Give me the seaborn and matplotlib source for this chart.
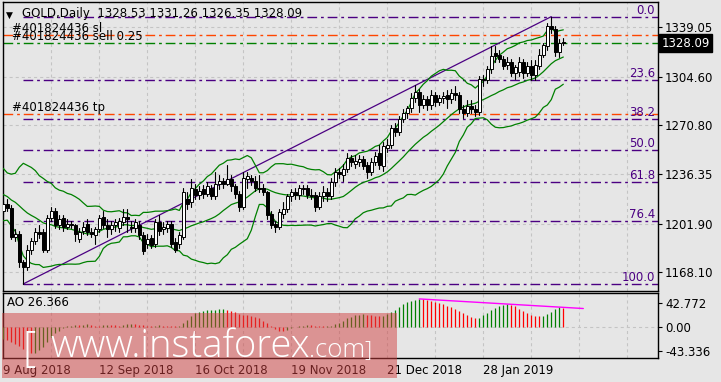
import numpy as np
import pandas as pd
import matplotlib
matplotlib.use("Agg")
import matplotlib.pyplot as plt
import seaborn as sns
from matplotlib.patches import Rectangle

sns.set_theme(style="white")
plt.rcParams['font.family'] = ['DejaVu Sans']
plt.rcParams['lines.scale_dashes'] = False

# ---------------- data ----------------
opens = [1211, 1216, 1213, 1193, 1195, 1175, 1172, 1184, 1190, 1196,
         1196, 1184, 1206, 1211, 1201, 1206, 1200, 1202, 1201, 1191,
         1197, 1202, 1196, 1194, 1198, 1207, 1201, 1198, 1201, 1199,
         1203, 1207, 1200, 1199, 1201, 1194, 1188, 1192, 1188, 1203,
         1198, 1199, 1202, 1189, 1188, 1193, 1219, 1217, 1226, 1222,
         1226, 1223, 1227, 1221, 1230, 1232, 1230, 1233, 1228, 1223,
         1214, 1233, 1234, 1232, 1227, 1227, 1224, 1209, 1202, 1200,
         1209, 1212, 1221, 1224, 1222, 1227, 1227, 1222, 1222, 1214,
         1221, 1224, 1221, 1231, 1238, 1236, 1240, 1248, 1244, 1245,
         1247, 1243, 1238, 1245, 1251, 1242, 1255, 1257, 1269, 1266,
         1275, 1279, 1283, 1290, 1294, 1285, 1289, 1285, 1292, 1287,
         1290, 1292, 1289, 1293, 1292, 1282, 1279, 1284, 1282, 1280,
         1303, 1302, 1310, 1321, 1320, 1317, 1313, 1315, 1307, 1308,
         1315, 1307, 1312, 1306, 1312, 1320, 1326, 1340, 1338, 1322,
         1328.53]
highs = [1218, 1219, 1215, 1198, 1197, 1177, 1187, 1192, 1199, 1201,
         1198, 1208, 1214, 1213, 1208, 1208, 1205, 1204, 1202, 1199,
         1203, 1205, 1199, 1200, 1208, 1211, 1205, 1204, 1205, 1206,
         1212, 1212, 1204, 1205, 1204, 1196, 1195, 1194, 1205, 1208,
         1203, 1204, 1204, 1192, 1196, 1227, 1224, 1233, 1230, 1228,
         1229, 1231, 1229, 1238, 1236, 1234, 1243, 1236, 1230, 1225,
         1238, 1238, 1236, 1235, 1236, 1230, 1225, 1211, 1204, 1212,
         1217, 1223, 1226, 1227, 1229, 1229, 1229, 1226, 1224, 1224,
         1228, 1227, 1234, 1241, 1241, 1244, 1251, 1250, 1250, 1250,
         1249, 1245, 1248, 1252, 1257, 1259, 1261, 1271, 1272, 1277,
         1282, 1284, 1293, 1299, 1296, 1292, 1291, 1295, 1294, 1292,
         1294, 1295, 1296, 1298, 1294, 1285, 1288, 1288, 1285, 1305,
         1306, 1312, 1326, 1326, 1323, 1319, 1318, 1317, 1313, 1318,
         1317, 1315, 1316, 1316, 1324, 1328, 1342, 1346.5, 1340, 1331,
         1331.26]
lows = [1209, 1211, 1191, 1190, 1172, 1160, 1170, 1181, 1188, 1192,
        1182, 1182, 1204, 1199, 1198, 1197, 1198, 1199, 1190, 1189,
        1195, 1194, 1193, 1188, 1196, 1199, 1193, 1195, 1197, 1196,
        1201, 1196, 1196, 1196, 1191, 1181, 1185, 1185, 1186, 1194,
        1195, 1196, 1186, 1182, 1185, 1191, 1212, 1214, 1219, 1219,
        1220, 1221, 1219, 1219, 1226, 1227, 1229, 1225, 1220, 1211,
        1212, 1227, 1229, 1225, 1224, 1222, 1205, 1199, 1196, 1198,
        1206, 1210, 1218, 1219, 1219, 1223, 1220, 1219, 1211, 1212,
        1218, 1218, 1219, 1228, 1234, 1232, 1238, 1242, 1241, 1242,
        1240, 1234, 1236, 1243, 1240, 1239, 1252, 1255, 1263, 1264,
        1273, 1276, 1280, 1287, 1280, 1283, 1281, 1282, 1284, 1285,
        1286, 1283, 1286, 1288, 1279, 1276, 1277, 1279, 1277, 1278,
        1298, 1300, 1307, 1315, 1315, 1310, 1310, 1305, 1303, 1305,
        1304, 1305, 1302, 1302, 1310, 1318, 1323, 1335, 1319, 1318,
        1326.35]
closes = [1216, 1213, 1193, 1195, 1175, 1172, 1184, 1190, 1196, 1195,
          1184, 1206, 1211, 1201, 1205, 1200, 1202, 1201, 1195, 1196,
          1200, 1196, 1195, 1198, 1206, 1201, 1198, 1201, 1203, 1204,
          1207, 1205, 1199, 1203, 1194, 1183, 1191, 1187, 1203, 1197,
          1200, 1202, 1188, 1184, 1194, 1224, 1216, 1227, 1222, 1225,
          1223, 1228, 1221, 1230, 1232, 1230, 1233, 1228, 1223, 1214,
          1234, 1235, 1232, 1227, 1226, 1224, 1208, 1201, 1200, 1210,
          1212, 1221, 1224, 1222, 1227, 1226, 1222, 1221, 1214, 1221,
          1224, 1221, 1231, 1238, 1237, 1240, 1248, 1245, 1246, 1247,
          1242, 1238, 1245, 1249, 1243, 1256, 1257, 1269, 1266, 1275,
          1279, 1283, 1290, 1294, 1285, 1289, 1285, 1292, 1287, 1290,
          1291, 1289, 1293, 1292, 1282, 1279, 1284, 1282, 1280, 1303,
          1302, 1310, 1319, 1319, 1317, 1312, 1315, 1307, 1311, 1315,
          1307, 1312, 1306, 1313, 1320, 1327, 1340, 1338, 1322, 1328,
          1328.09]
# closes of the 19 sessions before the first visible bar (feed the bands)
pre_closes = [1241.2, 1240.9, 1227.4, 1224.5, 1223.8, 1231.2, 1224.3, 1226.0,
              1231.1, 1222.9, 1222.4, 1220.1, 1224.1, 1216.9, 1208.4, 1214.3,
              1208.6, 1211.0, 1212.1]

ao_values = [-22, -24, -27, -31, -35, -39, -43, -47, -46, -41.5,
             -35.6, -26.7, -17.8, -11.9, -7, -3, 1, 2, 3, 2.5,
             3, 4, 3, 2, 1.5, 2.5, 3.5, 3, 2.5, 2,
             3, 4, 5, 4, 3.5, 2.5, 1.5, 1, 2, 2.5,
             2, 1.5, 1, 0.5, 1.5, 6, 12, 19, 25, 27,
             28, 29, 29.5, 30, 31, 31.5, 30, 28, 26, 23,
             21, 20, 19.5, 18, 15, 11, 6, 1, -4, -7,
             -8, -6, -3, -1, 1, 2, 3, 2.5, 1.5, 1,
             0.5, 1, 2, 4, 7, 11, 15, 18, 20, 21,
             22, 21, 20, 19, 18.5, 19, 22, 26, 30, 35,
             40, 44, 46, 48, 49.5, 49, 48, 46.5, 44.5, 42.5,
             40, 37.5, 35, 32, 28, 24, 20, 17, 15, 16,
             20, 25, 30, 34, 37, 39, 40, 39, 36, 32,
             28, 24, 21, 19, 18.5, 19, 22, 27, 31, 35,
             33]

date_labels = ["9 Aug 2018", "12 Sep 2018", "16 Oct 2018",
               "19 Nov 2018", "21 Dec 2018", "28 Jan 2019"]
date_label_bars = [0, 24, 48, 72, 96, 120]
price_ticks = [1339.05, 1304.60, 1270.80, 1236.35, 1201.90, 1168.10]
price_tick_labels = ["1339.05", "1304.60", "1270.80", "1236.35", "1201.90", "1168.10"]
ao_ticks = [42.772, 0.0, -43.336]
ao_tick_labels = ["42.772", "0.00", "-43.336"]
fib_ratios = [0.0, 23.6, 38.2, 50.0, 61.8, 76.4, 100.0]
fib_labels = ["0.0", "23.6", "38.2", "50.0", "61.8", "76.4", "100.0"]
order_names = ["#401824436 sl", "#401824436 sell 0.25", "#401824436 tp"]
order_prices = [1333.7, 1328.1, 1278.6]
order_colors = ["#ff4500", "#008000", "#ff4500"]
ao_trend_bars = [104, 145]
ao_trend_values = [49.5, 32.4]
header = "GOLD,Daily  1328.53 1331.26 1326.35 1328.09"
ao_header = "AO 26.366"
last_price_label = "1328.09"

# ---------------- styling ----------------
BG = "#e6e6e6"
GRID = "#c4c4c4"
FIB = "#4b0082"
BB = "#008000"
FS = 8
W, H = 721, 382
DASHDOT = (0, (7, 2.8, 2, 2.8))
GRIDDASH = (0, (2.2, 2.2))

n = len(closes)
bars = np.arange(n)
x_left = -0.2
x_right = x_left + 655 / 4.0

all_close = pd.Series(pre_closes + closes)
mid = all_close.rolling(20).mean().iloc[-n:].to_numpy()
sd = all_close.rolling(20).std(ddof=0).iloc[-n:].to_numpy()
upper = mid + 2 * sd
lower = mid - 2 * sd

fig = plt.figure(figsize=(W / 100, H / 100), dpi=100, facecolor=BG)
ax = fig.add_axes([2.5 / W, 1 - 291 / H, 655 / W, 289 / H], facecolor=BG)
ax2 = fig.add_axes([2.5 / W, 1 - 358.3 / H, 655 / W, 65 / H], facecolor=BG)

# ---- main panel ----
ax.set_xlim(x_left, x_right)
ax.set_ylim(1155.06, 1356.70)
grid_bars = np.arange(0, 165, 12)
for gb in grid_bars:
    ax.axvline(gb, color=GRID, lw=0.8, linestyle=GRIDDASH, zorder=0)
    ax2.axvline(gb, color=GRID, lw=0.8, linestyle=GRIDDASH, zorder=0)
for pt in price_ticks:
    ax.axhline(pt, color=GRID, lw=0.8, linestyle=GRIDDASH, zorder=0)

# Fibonacci levels
hi_idx = int(np.argmax(highs)); lo_idx = int(np.argmin(lows))
hi, lo = highs[hi_idx], lows[lo_idx]
for r, lab in zip(fib_ratios, fib_labels):
    lvl = hi - (hi - lo) * r / 100.0
    ax.plot([lo_idx, x_right], [lvl, lvl], color=FIB, lw=1.0, linestyle=DASHDOT, zorder=1)
    ax.text(0.9962, lvl, lab, transform=ax.get_yaxis_transform(), ha="right",
            va="bottom", color=FIB, fontsize=FS + 0.5, zorder=5)

# order lines
for name, p, c in zip(order_names, order_prices, order_colors):
    ax.axhline(p, color=c, lw=1.0, linestyle=DASHDOT, zorder=1)
    ax.text(0.014, p, name, transform=ax.get_yaxis_transform(), ha="left",
            va="bottom", color="black", fontsize=FS + 0.5, zorder=5)

# trend line from the low to the high
ax.plot([lo_idx, hi_idx], [lo, hi], color=FIB, lw=0.9, zorder=2)

# Bollinger bands
for band in (upper, mid, lower):
    sns.lineplot(x=bars, y=band, ax=ax, color=BB, lw=0.9, zorder=3)

# candles
bw = 0.75
for i in range(n):
    o, h, l, c = opens[i], highs[i], lows[i], closes[i]
    ax.plot([i, i], [l, h], color="black", lw=0.8, zorder=4)
    bot = min(o, c)
    ht = max(abs(c - o), 0.35)
    ax.add_patch(Rectangle((i - bw / 2, bot), bw, ht,
                           facecolor="white" if c >= o else "black",
                           edgecolor="black", lw=0.7, zorder=4.5))

ax.set_yticks(price_ticks)
ax.set_yticklabels(price_tick_labels)
ax.yaxis.set_ticks_position("right")
ax.tick_params(axis="y", direction="out", length=3, width=0.8, pad=2.5,
               labelsize=FS + 0.5, colors="black")
ax.set_xticks([])
ax.set_xlabel(""); ax.set_ylabel("")
for s in ax.spines.values():
    s.set_color("black"); s.set_linewidth(1.0)

ax.text(0.006, 1 - 15.5 / 289, "\u25bc", transform=ax.transAxes, ha="left",
        va="baseline", fontsize=6.5, color="black", zorder=6)
ax.text(0.0305, 1 - 15.5 / 289, header, transform=ax.transAxes, ha="left",
        va="baseline", fontsize=FS + 0.5, color="black", zorder=6)

ax.text(1 + 4 / 655, closes[-1], last_price_label,
        transform=ax.get_yaxis_transform(), ha="left", va="center",
        fontsize=FS + 0.5, color="white", zorder=7, clip_on=False,
        bbox=dict(boxstyle="square,pad=0.2", fc="black", ec="black"))

# ---- AO panel ----
ax2.set_xlim(x_left, x_right)
ax2.set_ylim(-56.3, 59.5)
ax2.axhline(0, color=GRID, lw=0.8, linestyle=GRIDDASH, zorder=0)
ao_colors = ["#008000" if (i == 0 or ao_values[i] > ao_values[i - 1]) else "#ff0000"
             for i in range(n)]
ax2.vlines(bars, 0, ao_values, colors=ao_colors, lw=0.9, zorder=3)
ax2.plot(ao_trend_bars, ao_trend_values, color="#ff00ff", lw=1.0, zorder=4)
ax2.set_yticks(ao_ticks)
ax2.set_yticklabels(ao_tick_labels)
ax2.yaxis.set_ticks_position("right")
ax2.tick_params(axis="y", direction="out", length=3, width=0.8, pad=2.5,
                labelsize=FS + 0.5, colors="black")
ax2.set_xticks(date_label_bars)
ax2.set_xticklabels(date_labels)
ax2.tick_params(axis="x", direction="out", length=2.5, width=0.8, pad=1.5,
                labelsize=FS + 0.5, colors="black")
for t in ax2.get_xticklabels():
    t.set_horizontalalignment("left")
ax2.set_xlabel(""); ax2.set_ylabel("")
for s in ax2.spines.values():
    s.set_color("black"); s.set_linewidth(1.0)
ax2.text(0.007, 1 - 9.5 / 65, ao_header, transform=ax2.transAxes, ha="left",
         va="center", fontsize=FS + 0.5, color="black", zorder=6)

# ---- watermark ----
fig.patches.append(Rectangle((2 / W, 1 - 378 / H), 395 / W, (378 - 313.3) / H,
                             transform=fig.transFigure, facecolor="#d14141",
                             alpha=0.5, edgecolor="none", zorder=10))
wm = dict(transform=fig.transFigure, color="white", zorder=11,
          family=["Open Sans", "DejaVu Sans"], fontweight="light", va="baseline")
fig.text(22 / W, 1 - 361 / H, "[", fontsize=30, **wm)
fig.text(50 / W, 1 - 357 / H, "www.instaforex", fontsize=27.5, ha="left", **wm)
fig.text(309 / W, 1 - 357 / H, ".com", fontsize=18.5, ha="left", **wm)
fig.text(364 / W, 1 - 356 / H, "]", fontsize=16, **wm)

fig.savefig("out.png", dpi=100, facecolor=BG)
